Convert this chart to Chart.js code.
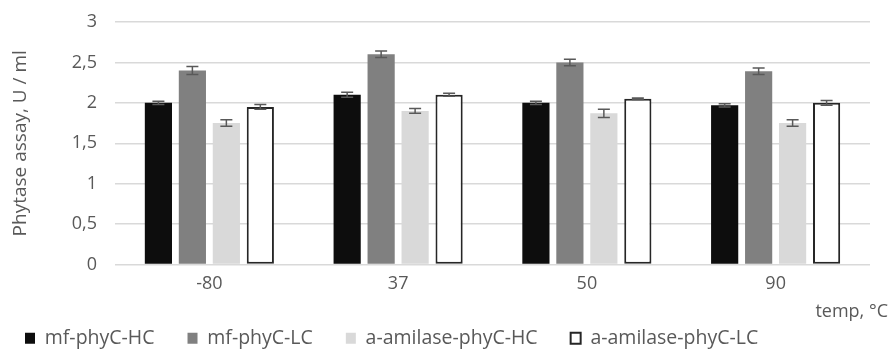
<!DOCTYPE html>
<html><head><meta charset="utf-8">
<script src="https://cdn.jsdelivr.net/npm/chart.js@4/dist/chart.umd.min.js"></script>
<style>html,body{margin:0;padding:0;background:#fff}#wrap{width:890px;height:350px;position:relative}</style>
</head><body><div id="wrap"><canvas id="c"></canvas></div>
<script>
const categories = ['-80', '37', '50', '90'];
const seriesNames = ['mf-phyC-HC', 'mf-phyC-LC', 'a-amilase-phyC-HC', 'a-amilase-phyC-LC'];
const mfHC = [2.00, 2.10, 2.00, 1.97];
const mfLC = [2.40, 2.60, 2.50, 2.39];
const amHC = [1.75, 1.90, 1.87, 1.75];
const amLC = [1.95, 2.10, 2.05, 2.00];
const mfHCerr = [0.02, 0.03, 0.02, 0.02];
const mfLCerr = [0.05, 0.04, 0.04, 0.04];
const amHCerr = [0.04, 0.03, 0.05, 0.04];
const amLCerr = [0.03, 0.02, 0.01, 0.03];
const yAxisTitle = 'Phytase assay, U / ml';
const xAxisTitle = 'temp, °C';

const errs = [mfHCerr, mfLCerr, amHCerr, amLCerr];
const txt = '#595959';
const FONT = 'Open Sans';

const errorBars = {
  id: 'errorBars',
  afterDatasetsDraw(chart) {
    const ctx = chart.ctx, y = chart.scales.y;
    ctx.save();
    ctx.strokeStyle = '#595959';
    ctx.lineWidth = 1.5;
    chart.data.datasets.forEach((ds, i) => {
      const meta = chart.getDatasetMeta(i);
      meta.data.forEach((el, j) => {
        const v = ds.data[j], e = errs[i][j];
        const yt = y.getPixelForValue(v + e), yb = y.getPixelForValue(v - e);
        const cw = 6;
        ctx.beginPath();
        ctx.moveTo(el.x, yt); ctx.lineTo(el.x, yb);
        ctx.moveTo(el.x - cw, yt); ctx.lineTo(el.x + cw, yt);
        ctx.moveTo(el.x - cw, yb); ctx.lineTo(el.x + cw, yb);
        ctx.stroke();
      });
    });
    ctx.restore();
  }
};

const xTitle = {
  id: 'xTitle',
  afterDraw(chart) {
    const ctx = chart.ctx;
    ctx.save();
    ctx.fillStyle = txt;
    ctx.font = '18px "' + FONT + '"';
    ctx.textAlign = 'right';
    ctx.textBaseline = 'middle';
    ctx.fillText(xAxisTitle, 888, 312);
    ctx.restore();
  }
};

new Chart(document.getElementById('c'), {
  type: 'bar',
  data: {
    labels: categories,
    datasets: [
      {label: seriesNames[0], data: mfHC, backgroundColor: '#0d0d0d', borderWidth: 0},
      {label: seriesNames[1], data: mfLC, backgroundColor: '#808080', borderWidth: 0},
      {label: seriesNames[2], data: amHC, backgroundColor: '#d9d9d9', borderWidth: 0},
      {label: seriesNames[3], data: amLC, backgroundColor: '#ffffff', borderColor: '#262626', borderWidth: 2, borderSkipped: false}
    ]
  },
  options: {
    responsive: true,
    maintainAspectRatio: false,
    animation: false,
    layout: {padding: {left: -8, right: 20, top: 22, bottom: -8}},
    datasets: {bar: {categoryPercentage: 0.72, barPercentage: 0.8}},
    scales: {
      x: {
        grid: {display: false, drawTicks: false},
        border: {display: false},
        ticks: {color: txt, font: {family: FONT, size: 18}, padding: 9},
        afterFit(s) { s.height = 31; }
      },
      y: {
        min: 0, max: 3,
        ticks: {stepSize: 0.5, color: txt, font: {family: FONT, size: 18}, padding: 18,
          callback: v => String(v).replace('.', ',')},
        grid: {color: '#d9d9d9', lineWidth: 1.5, drawTicks: false},
        border: {display: false},
        title: {display: true, text: yAxisTitle, color: txt, font: {family: FONT, size: 19}, padding: {top: 17, bottom: 0}},
        afterFit(s) { s.width = 123; s.paddingTop = 0; s.paddingBottom = 0; }
      }
    },
    plugins: {
      legend: {
        position: 'bottom', align: 'start',
        labels: {color: txt, font: {family: FONT, size: 19.5, lineHeight: 1}, boxWidth: 10, boxHeight: 11, padding: 33}
      },
      tooltip: {enabled: false}
    }
  },
  plugins: [errorBars, xTitle]
});
</script></body></html>
